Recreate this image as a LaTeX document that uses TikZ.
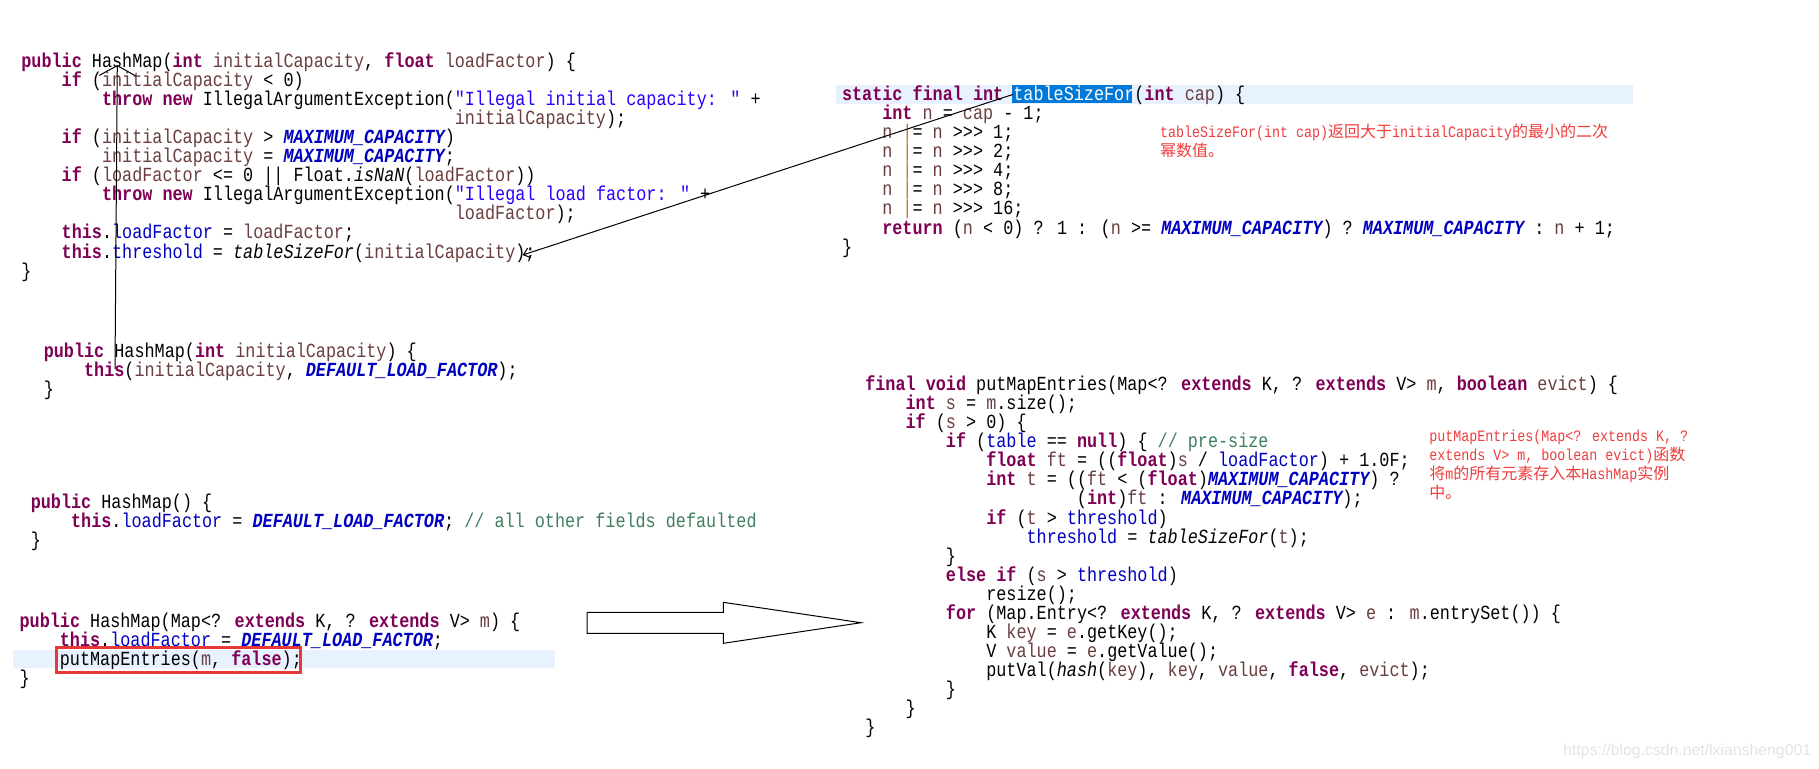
\documentclass[tikz,border=0pt]{standalone}
\usepackage{fontspec}
\usetikzlibrary{arrows.meta}
\newfontfamily\codefont[FakeStretch=0.84]{Liberation Mono}
\newfontfamily\anncjkfont{Noto Sans CJK SC}
\newfontfamily\wmfont{Liberation Sans}
\definecolor{kwc}{RGB}{127,0,85}
\definecolor{varc}{RGB}{106,62,62}
\definecolor{fldc}{RGB}{0,0,192}
\definecolor{strc}{RGB}{42,0,255}
\definecolor{cmc}{RGB}{63,127,95}
\definecolor{barc}{RGB}{200,120,40}
\definecolor{hlc}{RGB}{232,242,254}
\definecolor{selc}{RGB}{0,120,215}
\definecolor{boxred}{RGB}{232,56,56}
\definecolor{annred}{RGB}{240,60,60}
\definecolor{wmc}{RGB}{228,228,228}
\newcommand\jkw[1]{\textcolor{kwc}{\bfseries #1}}
\newcommand\jvar[1]{\textcolor{varc}{#1}}
\newcommand\jfld[1]{\textcolor{fldc}{#1}}
\newcommand\jcon[1]{\textcolor{fldc}{\bfseries\itshape #1}}
\newcommand\jsm[1]{\textit{#1}}
\newcommand\jstr[1]{\textcolor{strc}{#1}}
\newcommand\jcom[1]{\textcolor{cmc}{#1}}
\newcommand\jbar{\textcolor{barc}{|}}
\newcommand\anl[1]{{\codefont\fontsize{7.94pt}{9.5pt}\selectfont #1}}
\newcommand\acj[1]{{\anncjkfont\fontsize{8pt}{9.5pt}\selectfont #1}}
\newcommand\jl[6]{\node[codeln] (#1) at ({#2+#4*10.08},{#3+#5*19.08}) {#6};}
\begin{document}
\begin{tikzpicture}[x=0.5pt,y=-0.5pt,
  codeln/.style={anchor=base west,inner sep=0pt,outer sep=0pt,font=\codefont\fontsize{10pt}{9.5pt}\selectfont},
  annln/.style={anchor=base west,inner sep=0pt,outer sep=0pt,text=annred},
  conn/.style={draw=black,line width=0.5pt}]
\fill[white] (0,0) rectangle (1819,768);
\useasboundingbox (0,0) rectangle (1819,768);
% highlights
\fill[hlc] (836,85) rectangle (1633,104.3);
\fill[selc] (1012.3,85) rectangle (1132,103.3);
\fill[hlc] (12.5,650) rectangle (555,668.3);
% ---- block 1
\jl{b1a}{21.4}{67.2}{0}{0}{\jkw{public} HashMap(\jkw{int} \jvar{initialCapacity}, \jkw{float} \jvar{loadFactor}) \{}
\jl{b1b}{21.4}{67.2}{4}{1}{\jkw{if} (\jvar{initialCapacity} < 0)}
\jl{b1c}{21.4}{67.2}{8}{2}{\jkw{throw} \jkw{new} IllegalArgumentException(\jstr{"Illegal initial capacity: "} +}
\jl{b1d}{21.4}{67.2}{43}{3}{\jvar{initialCapacity});}
\jl{b1e}{21.4}{67.2}{4}{4}{\jkw{if} (\jvar{initialCapacity} >{} \jcon{MAXIMUM\_CAPACITY})}
\jl{b1f}{21.4}{67.2}{8}{5}{\jvar{initialCapacity} = \jcon{MAXIMUM\_CAPACITY};}
\jl{b1g}{21.4}{67.2}{4}{6}{\jkw{if} (\jvar{loadFactor} <= 0 || Float.\jsm{isNaN}(\jvar{loadFactor}))}
\jl{b1h}{21.4}{67.2}{8}{7}{\jkw{throw} \jkw{new} IllegalArgumentException(\jstr{"Illegal load factor: "} +}
\jl{b1i}{21.4}{67.2}{43}{8}{\jvar{loadFactor});}
\jl{b1j}{21.4}{67.2}{4}{9}{\jkw{this}.\jfld{loadFactor} = \jvar{loadFactor};}
\jl{b1k}{21.4}{67.2}{4}{10}{\jkw{this}.\jfld{threshold} = \jsm{tableSizeFor}(\jvar{initialCapacity});}
\jl{b1l}{21.4}{67.2}{0}{11}{\}}
% ---- block 2
\jl{b2a}{842}{100.5}{0}{0}{\jkw{static} \jkw{final} \jkw{int} \textcolor{white}{tableSizeFor}(\jkw{int} \jvar{cap}) \{}
\jl{b2b}{842}{100.5}{4}{1}{\jkw{int} \jvar{n} = \jvar{cap} - 1;}
\jl{b2c}{842}{100.5}{4}{2}{\jvar{n} \jbar= \jvar{n} >{}>{}> 1;}
\jl{b2d}{842}{100.5}{4}{3}{\jvar{n} \jbar= \jvar{n} >{}>{}> 2;}
\jl{b2e}{842}{100.5}{4}{4}{\jvar{n} \jbar= \jvar{n} >{}>{}> 4;}
\jl{b2f}{842}{100.5}{4}{5}{\jvar{n} \jbar= \jvar{n} >{}>{}> 8;}
\jl{b2g}{842}{100.5}{4}{6}{\jvar{n} \jbar= \jvar{n} >{}>{}> 16;}
\jl{b2h}{842}{100.5}{4}{7}{\jkw{return} (\jvar{n} < 0) ? 1 : (\jvar{n} >= \jcon{MAXIMUM\_CAPACITY}) ? \jcon{MAXIMUM\_CAPACITY} : \jvar{n} + 1;}
\jl{b2i}{842}{100.5}{0}{8}{\}}
% ---- block 3
\jl{b3a}{43.8}{357.2}{0}{0}{\jkw{public} HashMap(\jkw{int} \jvar{initialCapacity}) \{}
\jl{b3b}{43.8}{357.2}{4}{1}{\jkw{this}(\jvar{initialCapacity}, \jcon{DEFAULT\_LOAD\_FACTOR});}
\jl{b3c}{43.8}{357.2}{0}{2}{\}}
% ---- block 4
\jl{b4a}{30.8}{508.2}{0}{0}{\jkw{public} HashMap() \{}
\jl{b4b}{30.8}{508.2}{4}{1}{\jkw{this}.\jfld{loadFactor} = \jcon{DEFAULT\_LOAD\_FACTOR}; \jcom{// all other fields defaulted}}
\jl{b4c}{30.8}{508.2}{0}{2}{\}}
% ---- block 5
\jl{b5a}{19.6}{627.2}{0}{0}{\jkw{public} HashMap(Map<? \jkw{extends} K, ? \jkw{extends} V> \jvar{m}) \{}
\jl{b5b}{19.6}{627.2}{4}{1}{\jkw{this}.\jfld{loadFactor} = \jcon{DEFAULT\_LOAD\_FACTOR};}
\jl{b5c}{19.6}{627.2}{4}{2}{putMapEntries(\jvar{m}, \jkw{false});}
\jl{b5d}{19.6}{627.2}{0}{3}{\}}
% ---- block 6
\jl{b6a}{865.3}{390.5}{0}{0}{\jkw{final} \jkw{void} putMapEntries(Map<? \jkw{extends} K, ? \jkw{extends} V> \jvar{m}, \jkw{boolean} \jvar{evict}) \{}
\jl{b6b}{865.3}{390.5}{4}{1}{\jkw{int} \jvar{s} = \jvar{m}.size();}
\jl{b6c}{865.3}{390.5}{4}{2}{\jkw{if} (\jvar{s} > 0) \{}
\jl{b6d}{865.3}{390.5}{8}{3}{\jkw{if} (\jfld{table} == \jkw{null}) \{ \jcom{// pre-size}}
\jl{b6e}{865.3}{390.5}{12}{4}{\jkw{float} \jvar{ft} = ((\jkw{float})\jvar{s} / \jfld{loadFactor}) + 1.0F;}
\jl{b6f}{865.3}{390.5}{12}{5}{\jkw{int} \jvar{t} = ((\jvar{ft} < (\jkw{float})\jcon{MAXIMUM\_CAPACITY}) ?}
\jl{b6g}{865.3}{390.5}{21}{6}{(\jkw{int})\jvar{ft} : \jcon{MAXIMUM\_CAPACITY});}
\jl{b6h}{865.3}{390.5}{12}{7}{\jkw{if} (\jvar{t} > \jfld{threshold})}
\jl{b6i}{865.3}{390.5}{16}{8}{\jfld{threshold} = \jsm{tableSizeFor}(\jvar{t});}
\jl{b6j}{865.3}{390.5}{8}{9}{\}}
\jl{b6k}{865.3}{390.5}{8}{10}{\jkw{else} \jkw{if} (\jvar{s} > \jfld{threshold})}
\jl{b6l}{865.3}{390.5}{12}{11}{resize();}
\jl{b6m}{865.3}{390.5}{8}{12}{\jkw{for} (Map.Entry<? \jkw{extends} K, ? \jkw{extends} V> \jvar{e} : \jvar{m}.entrySet()) \{}
\jl{b6n}{865.3}{390.5}{12}{13}{K \jvar{key} = \jvar{e}.getKey();}
\jl{b6o}{865.3}{390.5}{12}{14}{V \jvar{value} = \jvar{e}.getValue();}
\jl{b6p}{865.3}{390.5}{12}{15}{putVal(\jsm{hash}(\jvar{key}), \jvar{key}, \jvar{value}, \jkw{false}, \jvar{evict});}
\jl{b6q}{865.3}{390.5}{8}{16}{\}}
\jl{b6r}{865.3}{390.5}{4}{17}{\}}
\jl{b6s}{865.3}{390.5}{0}{18}{\}}
% ---- annotations
\node[annln] (an1a) at (1160,137.2) {\anl{tableSizeFor(int cap)}\acj{返回大于}\anl{initialCapacity}\acj{的最小的二次}};
\node[annln] (an1b) at (1160,156.5) {\acj{幂数值。}};
\node[annln] (an2a) at (1429.3,441.5) {\anl{putMapEntries(Map<? extends K, ?}};
\node[annln] (an2b) at (1429.3,460.5) {\anl{extends V> m, boolean evict)}\acj{函数}};
\node[annln] (an2c) at (1429.3,479.5) {\acj{将}\anl{m}\acj{的所有元素存入本}\anl{HashMap}\acj{实例}};
\node[annln] (an2d) at (1429.3,498.5) {\acj{中。}};
% ---- red box
\draw[boxred,line width=1.4pt] (56.7,647.1) rectangle (300.3,672.6);
% ---- big hollow arrow
\draw[black,line width=0.5pt,fill=white] (587,612.3) -- (723.3,612.3) -- (723.3,602.3) -- (861,622.7) -- (723.3,643.3) -- (723.3,633.3) -- (587,633.3) -- cycle;
% ---- connectors
\coordinate (vaS) at (115,369);
\coordinate (vaE) at (117.3,65);
\draw[conn,-{Straight Barb[length=5pt,width=18pt]}] (vaS) -- (vaE);
\coordinate (daS) at (1013.3,94.3);
\coordinate (daE) at (522.7,255);
\draw[conn,-{Straight Barb[length=3pt,width=5pt]}] (daS) -- (daE);
% ---- watermark
\node[anchor=base west,inner sep=0pt,text=wmc,font=\wmfont\fontsize{7.9pt}{9pt}\selectfont] (wm) at (1563,755) {https://blog.csdn.net/lxiansheng001};
\end{tikzpicture}
\end{document}
